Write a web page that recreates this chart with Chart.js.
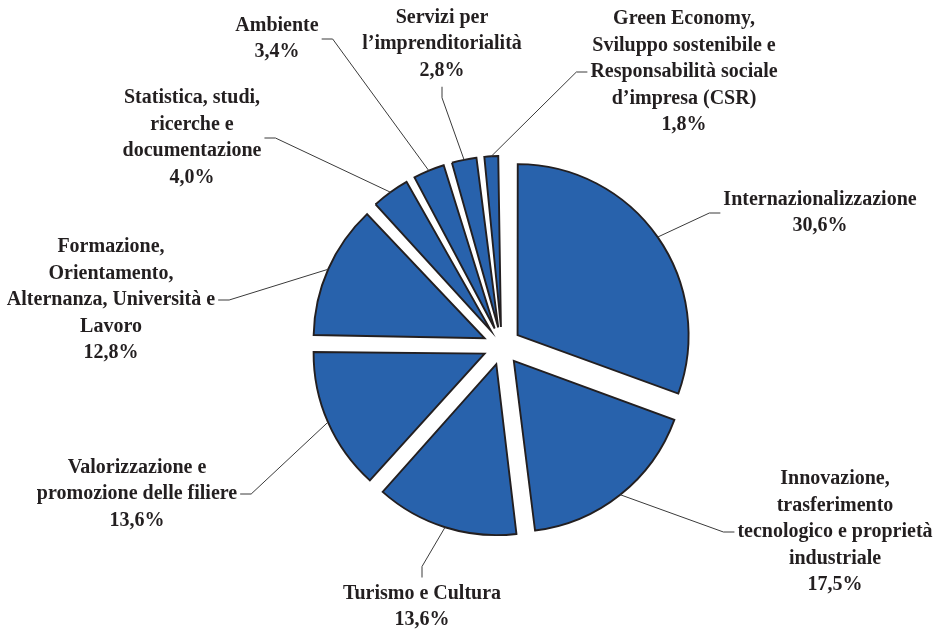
<!DOCTYPE html>
<html>
<head>
<meta charset="utf-8">
<script src="https://cdn.jsdelivr.net/npm/chart.js@4.4.0/dist/chart.umd.min.js"></script>
<style>
  html, body { margin: 0; padding: 0; background: #ffffff; }
  #wrap { width: 936px; height: 632px; }
</style>
</head>
<body>
<div id="wrap"><canvas id="chart" width="936" height="632"></canvas></div>
<script>
// Project areas, clockwise from 12 o'clock
const categories = [
  'Internazionalizzazione',
  'Innovazione, trasferimento tecnologico e proprietà industriale',
  'Turismo e Cultura',
  'Valorizzazione e promozione delle filiere',
  'Formazione, Orientamento, Alternanza, Università e Lavoro',
  'Statistica, studi, ricerche e documentazione',
  'Ambiente',
  'Servizi per l’imprenditorialità',
  'Green Economy, Sviluppo sostenibile e Responsabilità sociale d’impresa (CSR)'
];

// Share of resources, %
const shares = [30.6, 17.5, 13.6, 13.6, 12.8, 4.0, 3.4, 2.8, 1.8];

// Wrapped label text for each category
const labelLines = [
  ['Internazionalizzazione'],
  ['Innovazione,', 'trasferimento', 'tecnologico e proprietà', 'industriale'],
  ['Turismo e Cultura'],
  ['Valorizzazione e', 'promozione delle filiere'],
  ['Formazione,', 'Orientamento,', 'Alternanza, Università e', 'Lavoro'],
  ['Statistica, studi,', 'ricerche e', 'documentazione'],
  ['Ambiente'],
  ['Servizi per', 'l’imprenditorialità'],
  ['Green Economy,', 'Sviluppo sostenibile e', 'Responsabilità sociale', 'd’impresa (CSR)']
];

// Callout placement: label block centre and the side the leader line enters
const labelPlacement = [
  { x: 820, y: 213, side: 'left' },
  { x: 835, y: 532, side: 'left' },
  { x: 422, y: 607, side: 'top' },
  { x: 137, y: 494, side: 'right' },
  { x: 111, y: 300, side: 'right' },
  { x: 192, y: 138, side: 'right' },
  { x: 277, y: 39, side: 'right' },
  { x: 442, y: 44, side: 'bottom' },
  { x: 684, y: 72, side: 'left' }
];

const PIE_R = 171;        // outer radius, px
const EXPLODE = 19;       // distance each slice is pulled out, px
const FONT = 'bold 20px "Liberation Serif", "Times New Roman", serif';
const LINE_H = 26.5;
const INK = '#231F20';

const pct = v => v.toFixed(1).replace('.', ',') + '%';

// Chart.js grows narrow exploded slices slightly; keep every slice on the same radius
const evenRadius = {
  id: 'evenRadius',
  beforeDatasetsDraw(chart) {
    const meta = chart.getDatasetMeta(0);
    meta.data.forEach(arc => {
      const fix = 1 - Math.sin(Math.min(Math.PI, arc.circumference));
      arc.outerRadius = PIE_R - EXPLODE * fix;
    });
  }
};

// Multi-line category labels with leader lines from each slice's rim
const calloutLabels = {
  id: 'calloutLabels',
  afterDatasetsDraw(chart) {
    const ctx = chart.ctx;
    const meta = chart.getDatasetMeta(0);
    ctx.save();
    ctx.font = FONT;
    meta.data.forEach((arc, i) => {
      const lines = labelLines[i].concat([pct(shares[i])]);
      const place = labelPlacement[i];
      const w = Math.max(...lines.map(t => ctx.measureText(t).width));
      const h = lines.length * LINE_H;

      // rim point at the slice's mid angle
      const mid = (arc.startAngle + arc.endAngle) / 2;
      const cx = arc.x + Math.cos(mid) * EXPLODE;
      const cy = arc.y + Math.sin(mid) * EXPLODE;
      const sx = cx + Math.cos(mid) * PIE_R;
      const sy = cy + Math.sin(mid) * PIE_R;

      let ax, ay, ex, ey;
      const gap = 3, tail = 11;
      if (place.side === 'left') { ax = place.x - w / 2 - gap; ay = place.y; ex = ax - tail; ey = ay; }
      else if (place.side === 'right') { ax = place.x + w / 2 + gap; ay = place.y; ex = ax + tail; ey = ay; }
      else if (place.side === 'top') { ax = place.x; ay = place.y - h / 2 - gap; ex = ax; ey = ay - tail; }
      else { ax = place.x; ay = place.y + h / 2 + gap; ex = ax; ey = ay + tail; }

      ctx.strokeStyle = '#3a3a3a';
      ctx.lineWidth = 1;
      ctx.beginPath();
      ctx.moveTo(sx, sy);
      ctx.lineTo(ex, ey);
      ctx.lineTo(ax, ay);
      ctx.stroke();

      ctx.fillStyle = INK;
      ctx.textAlign = 'center';
      ctx.textBaseline = 'middle';
      const top = place.y - h / 2 + LINE_H / 2;
      lines.forEach((t, k) => ctx.fillText(t, place.x, top + k * LINE_H));
    });
    ctx.restore();
  }
};

new Chart(document.getElementById('chart'), {
  type: 'pie',
  data: {
    labels: categories,
    datasets: [{
      data: shares,
      backgroundColor: '#2862AC',
      borderColor: INK,
      borderWidth: 1.9,
      borderJoinStyle: 'miter',
      offset: EXPLODE * 4
    }]
  },
  options: {
    responsive: false,
    animation: false,
    events: [],
    radius: PIE_R,
    layout: { padding: { left: 68, top: 60, right: 0, bottom: 0 } },
    plugins: {
      legend: { display: false },
      tooltip: { enabled: false }
    }
  },
  plugins: [evenRadius, calloutLabels]
});
</script>
</body>
</html>
